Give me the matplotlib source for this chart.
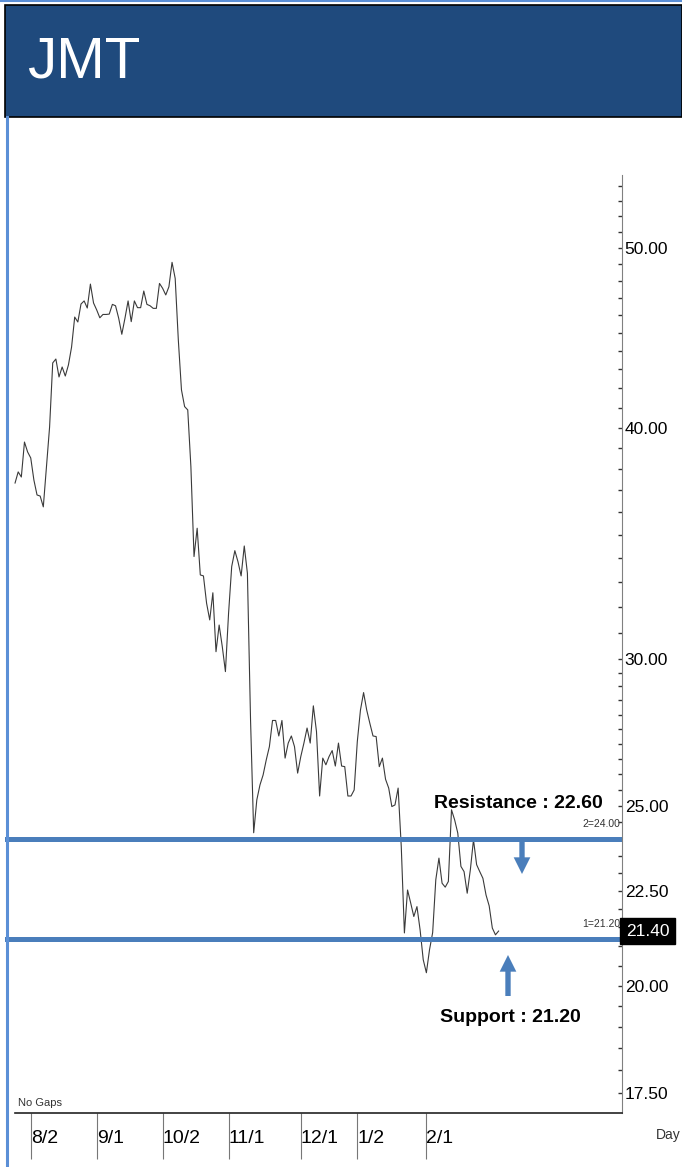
import numpy as np
import matplotlib.pyplot as plt
from matplotlib.patches import Rectangle
from matplotlib.lines import Line2D
from matplotlib.ticker import FixedLocator, FixedFormatter, NullFormatter

# daily closes
ticker = 'JMT'
prices = [37.34, 37.86, 37.62, 39.29, 38.81, 38.52, 37.48, 36.79, 36.74, 36.25,
          38.10, 40.03, 43.35, 43.56, 42.60, 43.13, 42.65, 43.24, 44.21, 45.89,
          45.61, 46.64, 46.82, 46.41, 47.81, 46.70, 46.30, 45.85, 46.04, 46.04,
          46.06, 46.62, 46.54, 45.83, 44.92, 45.82, 46.82, 45.63, 46.82, 46.43,
          46.43, 47.40, 46.62, 46.54, 46.39, 46.39, 47.85, 47.56, 47.17, 47.65,
          49.12, 48.15, 44.60, 41.92, 41.06, 40.89, 38.11, 34.08, 35.30, 33.31,
          33.27, 32.16, 31.50, 32.58, 30.28, 31.30, 30.47, 29.54, 31.76, 33.66,
          34.33, 33.86, 33.27, 34.53, 33.38, 27.82, 24.18, 25.19, 25.66, 25.98,
          26.47, 26.91, 27.80, 27.80, 27.27, 27.80, 26.53, 27.03, 27.27, 26.91,
          26.04, 26.58, 27.03, 27.54, 27.03, 28.31, 27.42, 25.31, 26.53, 26.31,
          26.58, 26.78, 26.27, 27.03, 26.27, 26.25, 25.31, 25.31, 25.50, 27.08,
          28.16, 28.78, 28.16, 27.70, 27.27, 27.25, 26.25, 26.53, 25.84, 25.56,
          24.98, 25.03, 25.56, 23.77, 21.35, 22.52, 22.16, 21.79, 22.06, 21.43,
          20.65, 20.32, 20.91, 21.36, 22.81, 23.43, 22.71, 22.60, 22.76, 24.88,
          24.57, 24.17, 23.19, 23.04, 22.43, 23.09, 23.97, 23.24, 23.04, 22.85,
          22.38, 22.08, 21.48, 21.30, 21.40]
tick_days = [5, 26, 47, 68, 91, 109, 131]
tick_labels = ['8/2', '9/1', '10/2', '11/1', '12/1', '1/2', '2/1']
y_major = [17.5, 20, 22.5, 25, 30, 40, 50]
resistance_line = 24.00
support_line = 21.20
resistance_target = 22.60
support_target = 21.20

W, H = 682, 1167
SANS = ['Liberation Sans', 'DejaVu Sans']
BLUE = '#4a7ebb'

fig = plt.figure(figsize=(W / 100, H / 100), dpi=100)


def fx(x):
    return x / W


def fy(y):
    return 1 - y / H


# header
fig.add_artist(Rectangle((fx(5), fy(117)), fx(677), 112 / H, transform=fig.transFigure,
                         facecolor='#1f4a7d', edgecolor='black', lw=1.2))
fig.text(fx(27), fy(62), ticker, color='white', fontsize=42, family=SANS,
         ha='left', va='center')
fig.add_artist(Line2D([fx(6.5), fx(6.5)], [0, fy(117)], transform=fig.transFigure,
                      color='#5b8fd6', lw=2.2))
fig.add_artist(Line2D([0, 1], [fy(1), fy(1)], transform=fig.transFigure,
                      color='#5b8fd6', lw=1.5))

# chart
ax = fig.add_axes([fx(5), fy(1113), fx(617), (1113 - 175) / H])
days = np.arange(len(prices))
ax.plot(days, prices, color='#3a3a3a', lw=0.8)
ax.set_yscale('log')
ax.set_xlim(-3.2, 193.3)
ax.set_ylim(17.07, 54.75)

ax.axhline(resistance_line, xmin=0, xmax=615 / 617, color=BLUE, lw=3.6)
ax.axhline(support_line, xmin=0, xmax=615 / 617, color=BLUE, lw=3.6)
ax.text(0.997, resistance_line * 1.012, '2=%.2f' % resistance_line,
        transform=ax.get_yaxis_transform(), ha='right', va='bottom',
        fontsize=7.5, family=SANS, color='#333333')
ax.text(0.997, support_line * 1.012, '1=%.2f' % support_line,
        transform=ax.get_yaxis_transform(), ha='right', va='bottom',
        fontsize=7.5, family=SANS, color='#333333')

for s in ['top', 'left']:
    ax.spines[s].set_visible(False)
ax.spines['right'].set_color('#808080')
ax.spines['bottom'].set_color('#222222')
ax.spines['bottom'].set_linewidth(1.2)
ax.spines['bottom'].set_bounds(0, 193.3)

ax.yaxis.tick_right()
ax.yaxis.set_major_locator(FixedLocator(y_major))
ax.yaxis.set_major_formatter(FixedFormatter(['%.2f' % v for v in y_major]))
minor = [v for v in list(np.arange(18, 30, 0.5)) + list(range(31, 55)) if v not in y_major]
ax.yaxis.set_minor_locator(FixedLocator(minor))
ax.yaxis.set_minor_formatter(NullFormatter())
ax.tick_params(axis='y', which='both', direction='in', length=3, width=1,
               color='#333333', pad=2, labelsize=12.5)
for lab in ax.get_yticklabels():
    lab.set_family(SANS)

ax.set_xticks(tick_days)
ax.set_xticklabels(tick_labels, fontsize=14, family=SANS)
ax.tick_params(axis='x', direction='out', length=33, width=0.8, color='#777777', pad=-21)
for t in ax.xaxis.get_major_ticks():
    t.label1.set_horizontalalignment('left')

# last price box
ax.text(1.006, prices[-1], '%.2f' % prices[-1], transform=ax.get_yaxis_transform(),
        ha='left', va='center', fontsize=12.5, family=SANS, color='white',
        bbox=dict(facecolor='black', edgecolor='black', pad=4))

fig.text(fx(18), fy(1103), 'No Gaps', fontsize=8, family=SANS, color='#333333',
         ha='left', va='center')
fig.text(fx(656), fy(1135), 'Day', fontsize=10, family=SANS, color='#333333',
         ha='left', va='center')

# annotations
fig.text(fx(518), fy(803), 'Resistance : %.2f' % resistance_target, ha='center', va='center',
         fontsize=14, fontweight='bold', family=SANS)
fig.text(fx(510), fy(1017), 'Support : %.2f' % support_target, ha='center', va='center',
         fontsize=14, fontweight='bold', family=SANS)
arrow = dict(arrowstyle='simple,head_length=1.0,head_width=1.0,tail_width=0.32',
             color=BLUE, lw=0, mutation_scale=12, shrinkA=0, shrinkB=0)
ax.annotate('', xy=(522, H - 874), xytext=(522, H - 839), xycoords='figure pixels',
            textcoords='figure pixels', arrowprops=arrow)
ax.annotate('', xy=(508, H - 955), xytext=(508, H - 996), xycoords='figure pixels',
            textcoords='figure pixels', arrowprops=arrow)

fig.savefig('out.png', dpi=100)
